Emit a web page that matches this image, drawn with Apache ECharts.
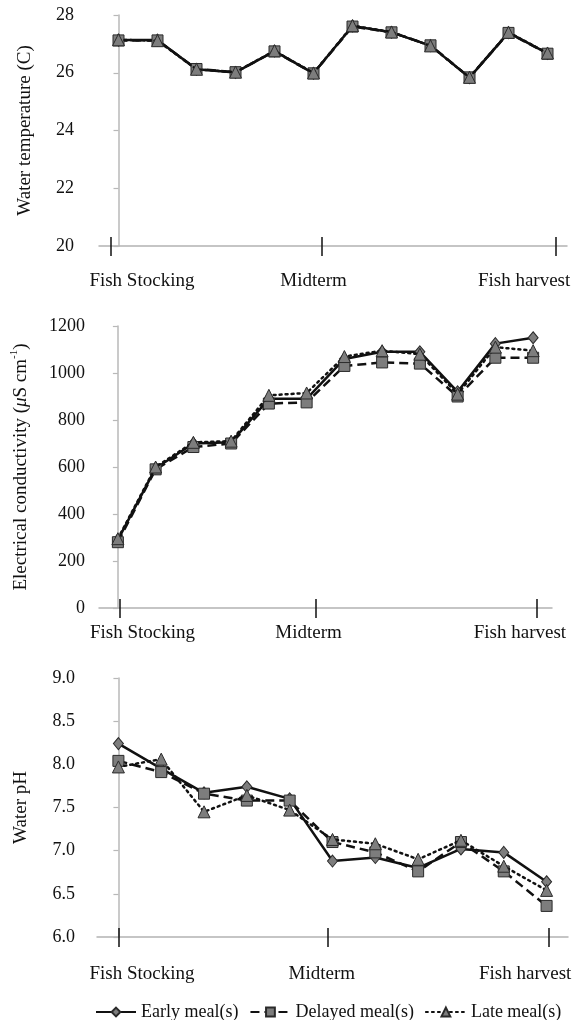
<!DOCTYPE html>
<html>
<head>
<meta charset="utf-8">
<script src="https://cdn.jsdelivr.net/npm/echarts@6/dist/echarts.min.js"></script>
<style>
  html, body { margin: 0; padding: 0; background: #fff; }
  #chart { width: 578px; height: 1020px; }
</style>
</head>
<body>
<div id="chart"></div>
<script>
// ---------- data ----------
const seriesNames = ['Early meal(s)', 'Delayed meal(s)', 'Late meal(s)'];
const stageLabels = ['Fish Stocking', 'Midterm', 'Fish harvest'];

// Water temperature (C), 12 samplings
const tempEarly   = [27.13, 27.13, 26.12, 26.01, 26.75, 25.98, 27.62, 27.40, 26.94, 25.83, 27.39, 26.67];
const tempDelayed = [27.12, 27.12, 26.13, 26.02, 26.74, 25.98, 27.60, 27.40, 26.95, 25.84, 27.38, 26.66];
const tempLate    = [27.14, 27.11, 26.12, 26.02, 26.76, 25.99, 27.63, 27.41, 26.93, 25.84, 27.40, 26.68];

// Electrical conductivity (uS/cm), 12 samplings
const ecEarly   = [290, 595, 700, 705, 890, 890, 1060, 1090, 1090, 920, 1125, 1150];
const ecDelayed = [280, 590, 685, 700, 870, 875, 1030, 1045, 1040, 900, 1065, 1065];
const ecLate    = [295, 600, 705, 710, 905, 915, 1070, 1095, 1080, 910, 1110, 1095];

// Water pH, 11 samplings
const phEarly   = [8.24, 7.95, 7.67, 7.74, 7.60, 6.88, 6.92, 6.80, 7.02, 6.98, 6.64];
const phDelayed = [8.04, 7.91, 7.66, 7.58, 7.58, 7.10, 6.98, 6.76, 7.10, 6.76, 6.36];
const phLate    = [7.97, 8.06, 7.45, 7.64, 7.47, 7.13, 7.08, 6.90, 7.12, 6.82, 6.54];

// y-axis ticks
const tempTicks = { min: 20, max: 28, interval: 2 };
const ecTicks   = { min: 0, max: 1200, interval: 200 };
const phTicks   = { min: 6, max: 9, interval: 0.5 };

// stage tick / label positions (in sampling-index units)
const tempStageTicks  = [-0.2, 5.2, 11.2];
const tempStageLabels = [0.6, 5.0, 10.4];
const ecStageTicks    = [0.05, 5.25, 11.1];
const ecStageLabels   = [0.65, 5.05, 10.65];
const phStageTicks    = [0.0, 4.9, 10.05];
const phStageLabels   = [0.55, 4.75, 9.5];

// ---------- chart ----------
const FONT = '"Liberation Serif", "Times New Roman", serif';
const chart = echarts.init(document.getElementById('chart'), null, { renderer: 'canvas' });

const panels = [
  { data: [tempEarly, tempDelayed, tempLate], yt: tempTicks, st: tempStageTicks, sl: tempStageLabels,
    grid: { left: 99, right: 11, top: 15, bottom: 774 }, labelMargin: 26, yLabelMargin: 25, nameGap: 64,
    name: 'Water temperature (C)', fmt: v => String(v) },
  { data: [ecEarly, ecDelayed, ecLate], yt: ecTicks, st: ecStageTicks, sl: ecStageLabels,
    grid: { left: 99, right: 26, top: 326, bottom: 412 }, labelMargin: 16, yLabelMargin: 14, nameGap: 66,
    name: '{t|Electrical conductivity (}{mu|\u03bc}{t|S cm}{sup|-1}{t|)}', fmt: v => String(v) },
  { data: [phEarly, phDelayed, phLate], yt: phTicks, st: phStageTicks, sl: phStageLabels,
    grid: { left: 97, right: 10, top: 678, bottom: 83 }, labelMargin: 28, yLabelMargin: 22, nameGap: 66,
    name: 'Water pH', fmt: v => v.toFixed(1) }
];

const symbols = ['diamond', 'rect', 'triangle'];
const symbolSizes = [[10, 12], 11, 12];
const lineTypes = ['solid', [9, 5], [2, 4]];

const grids = [], xAxes = [], yAxes = [], series = [];
panels.forEach((p, gi) => {
  const n = p.data[0].length;
  grids.push(p.grid);
  const labelPos = p.sl;
  xAxes.push({
    type: 'value', gridIndex: gi, position: 'bottom', min: -0.5, max: n - 0.5,
    splitLine: { show: false },
    axisLine: { show: true, lineStyle: { color: '#b3b3b3', width: 1.5 } },
    axisTick: { show: true, inside: true, length: 9, customValues: p.st, lineStyle: { color: '#111', width: 1.5 } },
    axisLabel: { show: true, customValues: labelPos, margin: p.labelMargin, color: '#111',
      fontFamily: FONT, fontSize: 19, formatter: v => {
        const k = labelPos.findIndex(x => Math.abs(x - v) < 1e-6);
        return k >= 0 ? stageLabels[k] : '';
      } }
  });
  xAxes.push({
    type: 'value', gridIndex: gi, position: 'bottom', min: -0.5, max: n - 0.5,
    splitLine: { show: false },
    axisLine: { show: false, onZero: false },
    axisTick: { show: true, inside: false, length: 10, customValues: p.st, lineStyle: { color: '#111', width: 1.5 } },
    axisLabel: { show: false }
  });
  yAxes.push({
    type: 'value', gridIndex: gi, min: p.yt.min, max: p.yt.max, interval: p.yt.interval,
    splitLine: { show: false },
    axisLine: { show: true, lineStyle: { color: '#b8b8b8', width: 1.5 } },
    axisTick: { show: true, length: 5, lineStyle: { color: '#b8b8b8', width: 1.2 } },
    axisLabel: { color: '#111', fontFamily: FONT, fontSize: 18, margin: p.yLabelMargin, formatter: p.fmt },
    name: p.name, nameLocation: 'middle', nameGap: p.nameGap,
    nameTextStyle: { color: '#111', fontFamily: FONT, fontSize: 19,
      rich: {
        t: { fontFamily: FONT, fontSize: 19, color: '#111', lineHeight: 24 },
        mu: { fontFamily: FONT, fontSize: 19, color: '#111', fontStyle: 'italic', lineHeight: 24 },
        sup: { fontFamily: FONT, fontSize: 11, color: '#111', verticalAlign: 'top', lineHeight: 24 }
      } }
  });
  p.data.forEach((arr, si) => {
    series.push({
      name: seriesNames[si], type: 'line',
      xAxisIndex: gi * 2, yAxisIndex: gi,
      data: arr.map((v, i) => [i, v]),
      symbol: symbols[si], symbolSize: symbolSizes[si],
      showSymbol: true,
      lineStyle: { color: '#111', width: 2.5, type: lineTypes[si], cap: si === 2 ? 'round' : 'butt' },
      itemStyle: { color: '#7d7d7d', borderColor: '#2a2a2a', borderWidth: 1 },
      z: 2 + si
    });
  });
});

chart.setOption({
  animation: false,
  backgroundColor: '#fff',
  grid: grids,
  xAxis: xAxes,
  yAxis: yAxes,
  legend: {
    data: seriesNames, top: 998, left: 90,
    itemWidth: 40, itemHeight: 11, itemGap: 11,
    textStyle: { color: '#111', fontFamily: FONT, fontSize: 18 }
  },
  series: series
});
</script>
</body>
</html>
